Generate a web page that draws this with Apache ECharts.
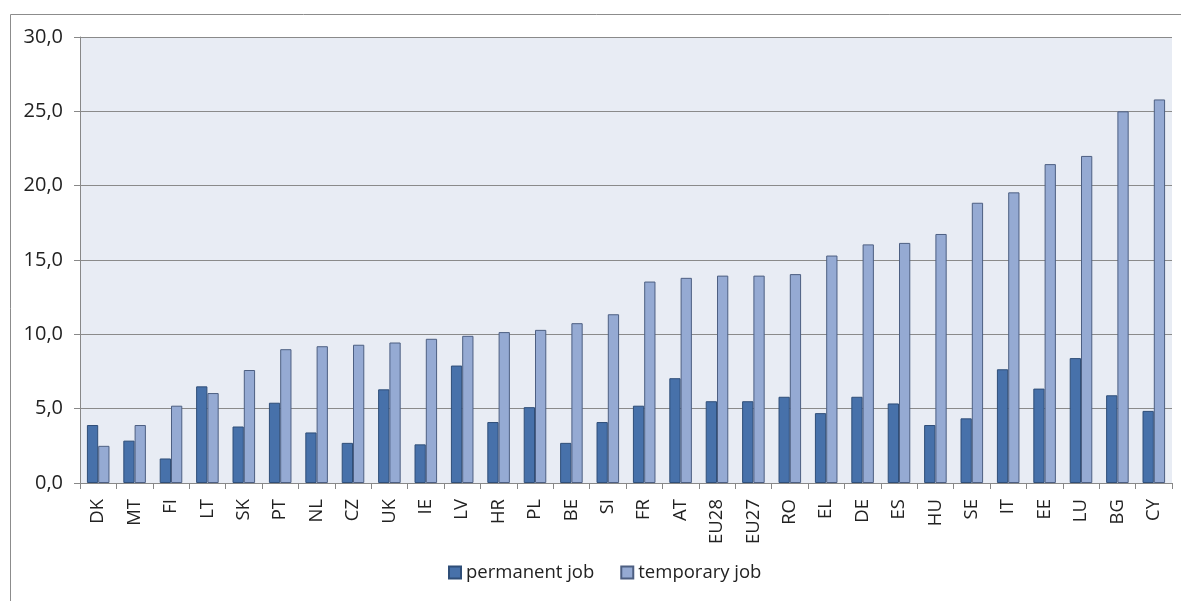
<!DOCTYPE html>
<html>
<head>
<meta charset="utf-8">
<script src="https://cdn.jsdelivr.net/npm/echarts@6/dist/echarts.min.js"></script>
<style>html,body{margin:0;padding:0;background:#fff}#c{width:1181px;height:601px}</style>
</head>
<body>
<div id="c"></div>
<script>
const categories = ['DK','MT','FI','LT','SK','PT','NL','CZ','UK','IE','LV','HR','PL','BE','SI','FR','AT','EU28','EU27','RO','EL','DE','ES','HU','SE','IT','EE','LU','BG','CY'];
const permanentJob = [3.9,2.85,1.65,6.5,3.8,5.4,3.4,2.7,6.3,2.6,7.9,4.1,5.1,2.7,4.1,5.2,7.05,5.5,5.5,5.8,4.7,5.8,5.35,3.9,4.35,7.65,6.35,8.4,5.9,4.85];
const temporaryJob = [2.5,3.9,5.2,6.05,7.6,9.0,9.2,9.3,9.45,9.7,9.9,10.15,10.3,10.75,11.35,13.55,13.8,13.95,13.95,14.05,15.3,16.05,16.15,16.75,18.85,19.55,21.45,22.0,25.0,25.8];
const seriesNames = ['permanent job','temporary job'];

const FONT = '"Open Sans", "Liberation Sans", sans-serif';
const chart = echarts.init(document.getElementById('c'), null, {renderer:'canvas'});
chart.setOption({
  animation: false,
  backgroundColor: '#ffffff',
  textStyle: {fontFamily: FONT},
  graphic: [{
    type: 'rect', silent: true, z: -10,
    shape: {x: 10.5, y: 14.5, width: 1250, height: 650},
    style: {fill: 'none', stroke: '#8c8c8c', lineWidth: 1}
  }],
  grid: {
    left: 80, top: 37, right: 9, bottom: 118,
    show: true, backgroundColor: '#e8ecf4', borderWidth: 0
  },
  legend: {
    bottom: 14, left: 443, itemWidth: 12, itemHeight: 12, itemGap: 26,
    icon: 'rect',
    textStyle: {fontSize: 18.5, color: '#222', fontFamily: FONT},
    data: seriesNames
  },
  xAxis: {
    type: 'category', data: categories,
    axisLine: {lineStyle: {color: '#888', width: 1}},
    axisTick: {show: true, length: 6, lineStyle: {color: '#888'}},
    axisLabel: {rotate: 90, fontSize: 18.5, color: '#222', margin: 16, fontFamily: FONT}
  },
  yAxis: {
    type: 'value', min: 0, max: 30, interval: 5,
    axisLine: {show: true, lineStyle: {color: '#888'}},
    axisTick: {show: true, length: 6, inside: false, lineStyle: {color: '#888'}},
    splitLine: {lineStyle: {color: '#8a8a8a', width: 1}},
    axisLabel: {fontSize: 20, color: '#222', margin: 17, fontFamily: FONT,
      formatter: v => v.toFixed(1).replace('.', ',')}
  },
  series: [
    {name: seriesNames[0], type: 'bar', data: permanentJob, barGap: '0%', barCategoryGap: '38%',
     itemStyle: {color: '#4771aa', borderColor: '#2f4e78', borderWidth: 1}},
    {name: seriesNames[1], type: 'bar', data: temporaryJob, barGap: '0%', barCategoryGap: '38%',
     itemStyle: {color: '#95aad3', borderColor: '#4d5f82', borderWidth: 1}}
  ]
});
</script>
</body>
</html>
